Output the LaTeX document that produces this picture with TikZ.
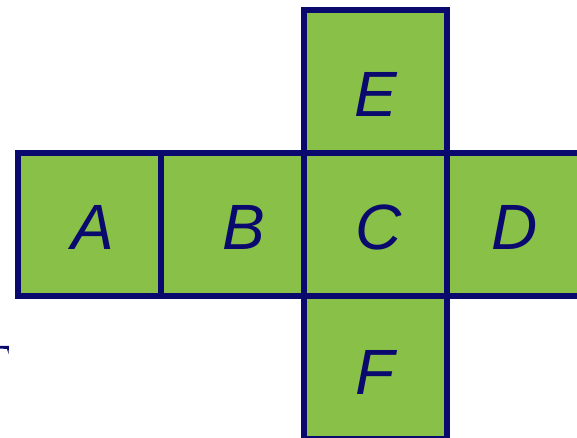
\documentclass[tikz,border=0pt]{standalone}
\usepackage{fontspec}
\setmainfont{Liberation Sans}
\usepackage{tikz}
\usetikzlibrary{positioning}
\definecolor{netInk} {HTML}{0A0A6E}
\definecolor{netFill}{HTML}{88C048}
\tikzset{
  face/.style={draw=netInk,line width=5.5pt,fill=netFill,
               minimum width=143pt,minimum height=143pt,inner sep=0pt,
               outer sep=0pt},
  faceLabel/.style={font=\fontsize{64}{64}\selectfont\itshape,text=netInk,
                    anchor=base,inner sep=0pt},
}

\begin{document}
\begin{tikzpicture}[x=1pt,y=1pt]
\useasboundingbox (0,0) rectangle (577,438);
\clip (0,0) rectangle (577,438);

% the net of a cube: row A B C D, with E above and F below C
\node[face] (faceA) at (89.5,213.5) {};
\node[face,right=0pt of faceA] (faceB) {};
\node[face,right=0pt of faceB] (faceC) {};
\node[face,right=0pt of faceC] (faceD) {};
\node[face,above=0pt of faceC] (faceE) {};
\node[face,below=0pt of faceC] (faceF) {};

\node[faceLabel] (labA) at ([xshift=3.5pt,yshift=-25.5pt]faceA.center) {A};
\node[faceLabel] (labB) at ([xshift=11.5pt,yshift=-25.5pt]faceB.center) {B};
\node[faceLabel] (labC) at ([xshift=3pt,yshift=-25.5pt]faceC.center) {C};
\node[faceLabel] (labD) at ([xshift=-3.5pt,yshift=-25.5pt]faceD.center) {D};
\node[faceLabel] (labE) at ([yshift=-35.5pt]faceE.center) {E};
\node[faceLabel] (labF) at ([yshift=-27.5pt]faceF.center) {F};

% cut-off glyph at the left edge
\fill[netInk] (0,92) -- (9,92) -- (8.5,84) -- (7,89) -- (0,89.5) -- cycle;

\end{tikzpicture}
\end{document}
